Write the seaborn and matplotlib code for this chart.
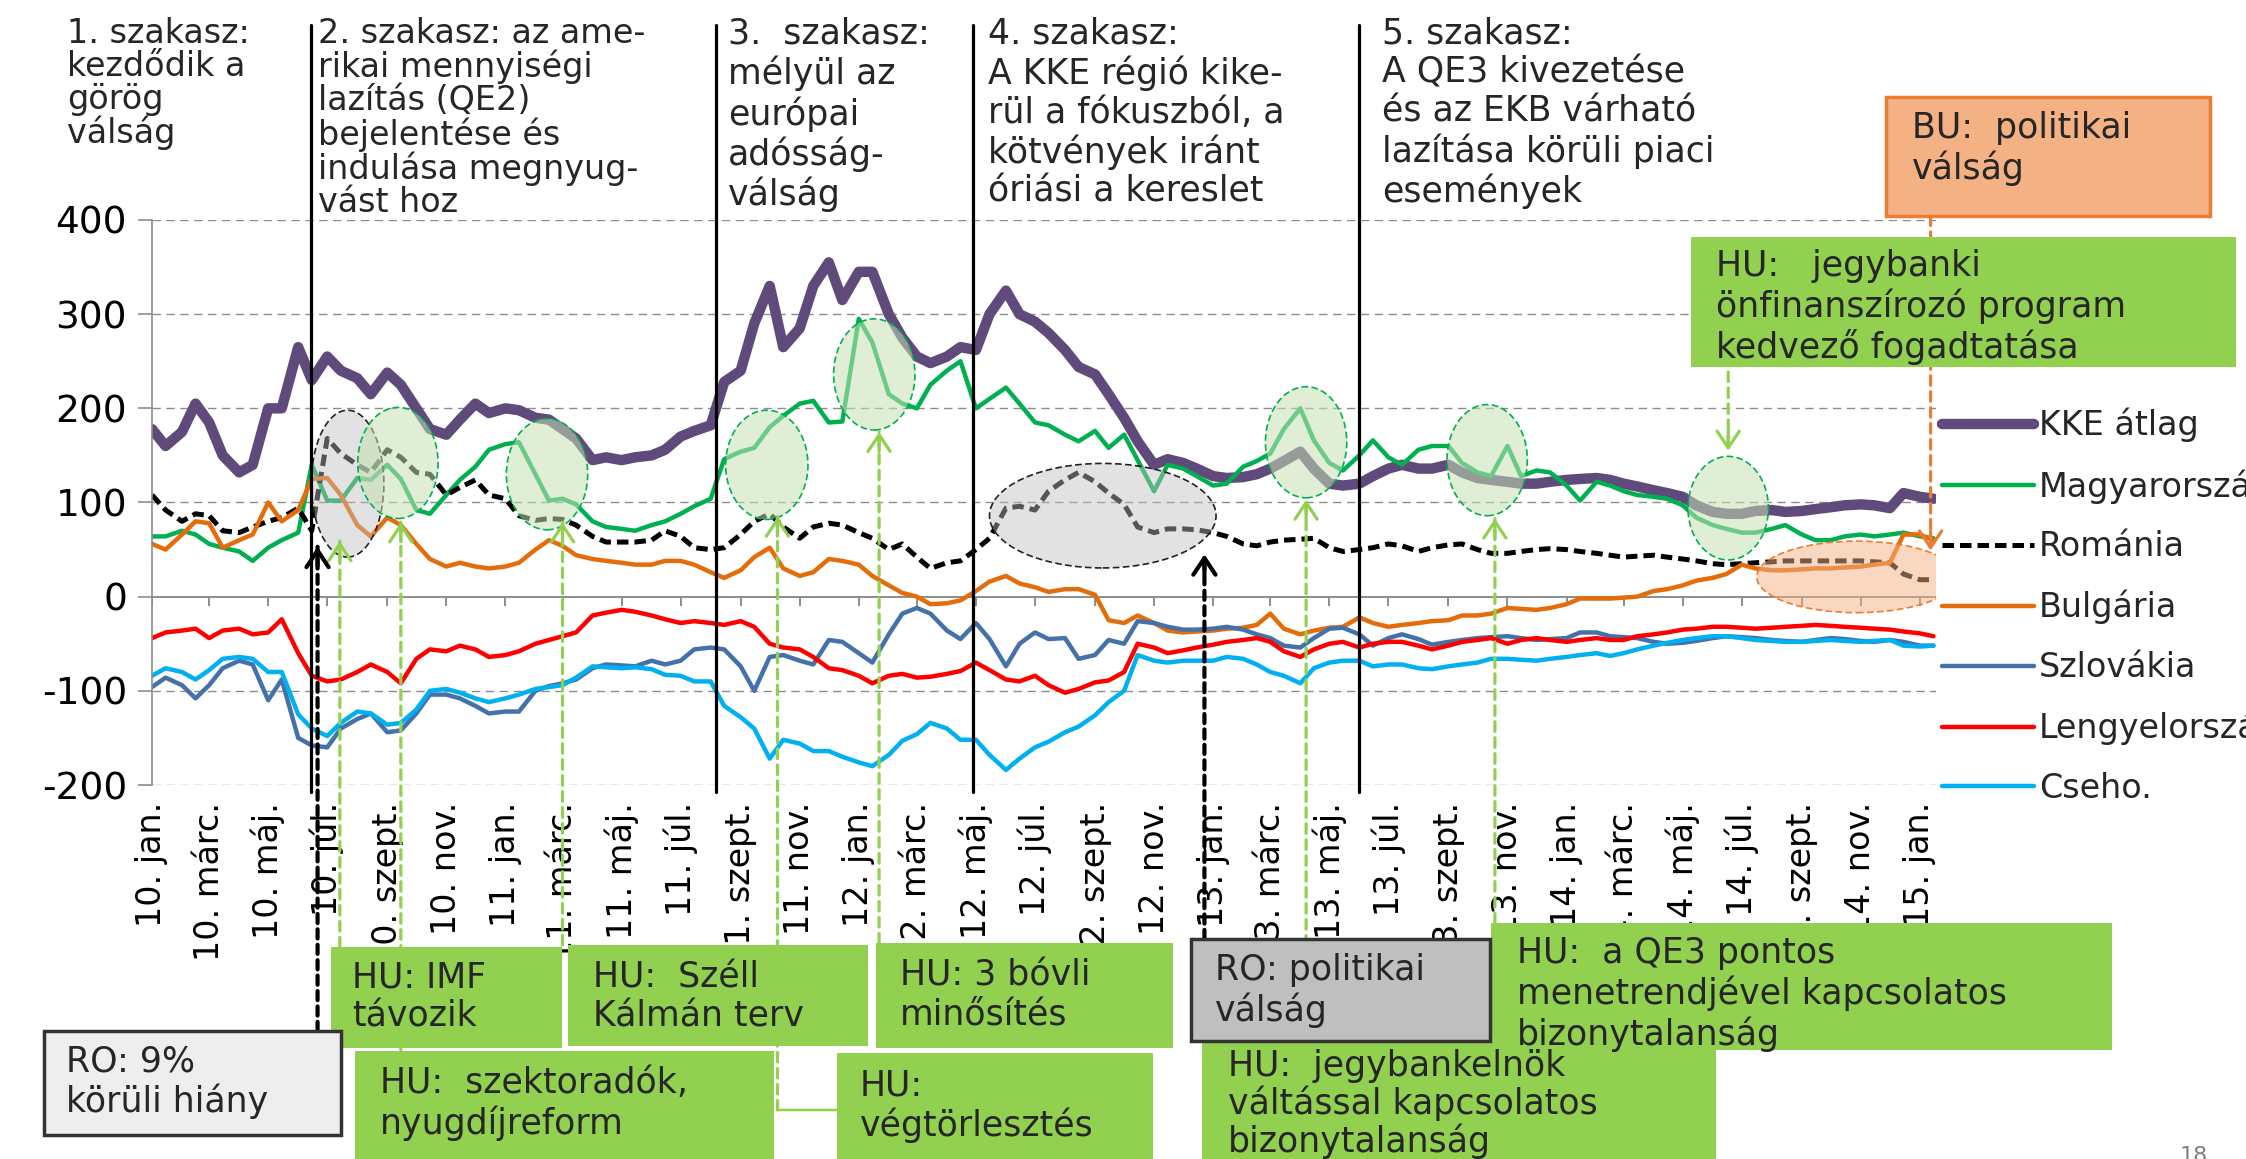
"""Spread chart of CEE sovereign bonds 2010-2015 with phase lines and event boxes."""
import matplotlib
matplotlib.use("Agg")
import matplotlib.pyplot as plt
import matplotlib.dates as mdates
import matplotlib.patches as mpatches
from matplotlib.colors import to_rgba
from matplotlib.transforms import blended_transform_factory
import pandas as pd
import seaborn as sns

W, H = 2246, 1159

# ----------------------------------------------------------------------
# data (semi-monthly readings, 1st and 15th of each month)
# ----------------------------------------------------------------------
DATES = pd.date_range("2010-01-01", "2015-01-15", freq="SMS")

KKE_ATLAG = [
    178, 160, 175, 205, 185, 150, 132, 140, 200, 200, 265, 230, 255, 240, 232, 215, 238, 225, 200, 178, 172, 188, 205, 195,
    200, 198, 190, 188, 178, 168, 145, 148, 145, 148, 150, 156, 170, 176, 182, 228, 240, 290, 330, 265, 285, 330, 355, 315,
    345, 345, 300, 275, 255, 248, 255, 265, 262, 300, 325, 300, 292, 280, 262, 244, 236, 215, 190, 165, 140, 146, 142, 136,
    128, 126, 127, 130, 136, 144, 154, 136, 120, 118, 120, 128, 136, 140, 136, 136, 140, 132, 126, 124, 122, 120, 120, 122,
    124, 125, 126, 124, 120, 117, 113, 110, 106, 97, 90, 88, 88, 91, 92, 90, 91, 93, 95, 97, 98, 97, 94, 110,
    106, 104,
]
MAGYARORSZAG = [
    64, 64, 70, 66, 56, 52, 48, 38, 52, 60, 68, 140, 102, 102, 126, 124, 140, 125, 92, 88, 108, 124, 138, 156,
    162, 164, 130, 102, 104, 98, 80, 74, 72, 70, 76, 80, 88, 96, 104, 146, 154, 158, 180, 192, 205, 208, 185, 186,
    295, 270, 215, 205, 200, 225, 240, 250, 200, 210, 222, 205, 185, 182, 172, 165, 176, 158, 172, 145, 112, 140, 136, 128,
    118, 120, 138, 144, 152, 178, 200, 166, 142, 134, 150, 166, 148, 140, 156, 160, 160, 142, 132, 128, 160, 128, 134, 132,
    118, 102, 122, 118, 112, 108, 106, 104, 97, 84, 76, 72, 68, 68, 72, 76, 66, 60, 60, 64, 66, 64, 66, 68,
    64, 62,
]
ROMANIA = [
    108, 92, 80, 88, 86, 70, 68, 74, 80, 84, 94, 70, 168, 152, 140, 132, 156, 148, 132, 130, 108, 116, 124, 108,
    104, 86, 81, 83, 82, 76, 64, 58, 58, 58, 60, 70, 64, 52, 50, 52, 66, 80, 88, 74, 62, 74, 78, 76,
    68, 62, 50, 56, 42, 30, 36, 38, 50, 62, 94, 96, 92, 112, 124, 132, 122, 110, 98, 74, 68, 72, 72, 71,
    68, 64, 56, 54, 58, 60, 61, 62, 52, 48, 50, 52, 56, 54, 48, 52, 55, 56, 50, 46, 46, 48, 50, 51,
    50, 48, 46, 44, 42, 43, 44, 42, 40, 38, 35, 34, 35, 36, 37, 38, 38, 38, 38, 38, 38, 37, 36, 24,
    18, 18,
]
BULGARIA = [
    56, 50, 66, 80, 78, 52, 60, 66, 100, 80, 92, 125, 126, 108, 76, 64, 84, 76, 56, 40, 32, 36, 32, 30,
    32, 36, 50, 60, 54, 44, 40, 38, 36, 34, 34, 38, 38, 34, 26, 20, 28, 42, 52, 30, 22, 26, 40, 38,
    34, 22, 12, 4, 0, -8, -7, -4, 6, 16, 22, 14, 10, 5, 8, 8, 2, -25, -28, -20, -28, -36, -38, -37,
    -36, -34, -33, -30, -18, -34, -40, -36, -33, -32, -22, -28, -32, -30, -28, -26, -25, -20, -20, -18, -12, -13, -14, -12,
    -8, -2, -2, -2, -1, 0, 6, 8, 12, 17, 20, 24, 34, 30, 28, 28, 29, 30, 30, 31, 32, 34, 36, 66,
    66, 60,
]
SZLOVAKIA = [
    -96, -86, -94, -108, -94, -76, -68, -72, -110, -88, -150, -158, -160, -140, -130, -124, -144, -142, -124, -104, -104, -108, -116, -124,
    -122, -122, -100, -95, -92, -88, -76, -72, -73, -74, -68, -72, -68, -56, -54, -56, -74, -100, -64, -62, -68, -72, -46, -48,
    -60, -70, -40, -18, -12, -18, -36, -45, -28, -45, -74, -50, -38, -45, -44, -66, -62, -46, -50, -26, -28, -32, -35, -35,
    -34, -32, -35, -40, -44, -52, -54, -44, -34, -33, -40, -52, -44, -40, -45, -51, -48, -46, -44, -43, -42, -44, -46, -45,
    -44, -38, -38, -42, -43, -44, -48, -50, -49, -47, -44, -42, -43, -44, -46, -47, -48, -46, -44, -45, -47, -48, -46, -48,
    -52, -52,
]
LENGYELORSZAG = [
    -44, -38, -36, -34, -44, -36, -34, -40, -38, -24, -60, -84, -90, -88, -80, -72, -80, -92, -66, -56, -58, -52, -56, -64,
    -62, -58, -50, -46, -42, -38, -20, -17, -14, -16, -20, -24, -28, -26, -28, -30, -26, -32, -50, -54, -56, -64, -76, -78,
    -84, -92, -84, -82, -86, -85, -82, -79, -70, -78, -88, -90, -84, -94, -102, -98, -91, -89, -80, -50, -54, -60, -57, -54,
    -51, -48, -46, -44, -48, -58, -64, -56, -50, -48, -54, -50, -48, -48, -52, -56, -52, -48, -46, -44, -50, -46, -44, -46,
    -48, -46, -44, -46, -46, -42, -40, -38, -35, -34, -32, -32, -33, -34, -33, -32, -31, -30, -31, -32, -33, -34, -35, -37,
    -39, -42,
]
CSEHO = [
    -84, -76, -80, -88, -78, -66, -64, -66, -80, -80, -125, -140, -148, -134, -122, -124, -136, -134, -120, -100, -98, -102, -108, -112,
    -108, -104, -98, -96, -94, -86, -74, -75, -76, -75, -77, -83, -84, -90, -90, -116, -128, -140, -172, -152, -156, -164, -164, -170,
    -176, -180, -168, -153, -146, -134, -140, -152, -152, -168, -184, -172, -160, -154, -144, -138, -126, -112, -100, -62, -68, -70, -68, -68,
    -68, -64, -66, -72, -80, -84, -92, -76, -70, -68, -68, -74, -72, -72, -76, -77, -74, -72, -70, -66, -66, -67, -68, -66,
    -64, -62, -60, -63, -60, -56, -52, -49, -46, -44, -42, -42, -44, -46, -47, -48, -48, -47, -46, -47, -48, -47, -46, -52,
    -53, -52,
]

Y_TICKS = [-200, -100, 0, 100, 200, 300, 400]
TICK_DATES = pd.date_range("2010-01-01", "2015-01-01", freq="2MS")
TICK_LABELS = [
    "10. jan.", "10. márc.", "10. máj.", "10. júl.", "10. szept.", "10. nov.",
    "11. jan.", "11. márc.", "11. máj.", "11. júl.", "11. szept.", "11. nov.",
    "12. jan.", "12. márc.", "12. máj.", "12. júl.", "12. szept.", "12. nov.",
    "13. jan.", "13. márc.", "13. máj.", "13. júl.", "13. szept.", "13. nov.",
    "14. jan.", "14. márc.", "14. máj.", "14. júl.", "14. szept.", "14. nov.",
    "15. jan.",
]

PHASE_DATES = ["2010-06-14", "2011-08-07", "2012-04-28", "2013-06-01"]
PHASE_TEXTS = [
    "1. szakasz:\nkezdődik a\ngörög\nválság",
    "2. szakasz: az ame-\nrikai mennyiségi\nlazítás (QE2)\nbejelentése és\nindulása megnyug-\nvást hoz",
    "3.  szakasz:\nmélyül az\neurópai\nadósság-\nválság",
    "4. szakasz:\nA KKE régió kike-\nrül a fókuszból, a\nkötvények iránt\nóriási a kereslet",
    "5. szakasz:\nA QE3 kivezetése\nés az EKB várható\nlazítása körüli piaci\nesemények",
]

# events: date the arrow points at, value at the arrow tip
HU_EVENT_DATES = ["2010-07-14", "2010-09-15", "2011-03-01", "2011-10-09",
                  "2012-01-22", "2013-04-07", "2013-10-19", "2014-06-17"]
HU_EVENT_VALUES = [59, 79, 79, 85, 175, 103, 83, 155]
RO_EVENT_DATES = ["2010-06-21", "2012-12-23"]
RO_EVENT_VALUES = [53, 45]
BU_EVENT_DATE = "2015-01-12"
BU_EVENT_VALUE = 49

# highlighted areas: centre date, centre value, width (days), height
ELLIPSE_DATES = ["2010-07-22", "2010-09-12", "2011-02-13", "2011-09-28", "2012-01-17",
                 "2012-09-09", "2013-04-07", "2013-10-11", "2014-06-17", "2014-10-28"]
ELLIPSE_VALUES = [120, 142, 130, 140, 236, 86, 164, 145, 94, 21]
ELLIPSE_WIDTHS = [75, 83, 84, 85, 84, 234, 84, 83, 83, 207]
ELLIPSE_HEIGHTS = [156, 118, 118, 116, 118, 111, 118, 118, 110, 76]
ELLIPSE_KINDS = ["ro", "hu", "hu", "hu", "hu", "ro", "hu", "hu", "hu", "bu"]

# ----------------------------------------------------------------------
# styles / layout
# ----------------------------------------------------------------------
GRID = "#8C8C8C"
HU_GREEN = "#92D050"
FS = 25
SERIES = [
    ("KKE átlag", KKE_ATLAG, "#604A7B", 7.5, "-"),
    ("Magyarország", MAGYARORSZAG, "#00B050", 3.2, "-"),
    ("Románia", ROMANIA, "black", 3.6, (0, (2.3, 1.2))),
    ("Bulgária", BULGARIA, "#E46C0A", 3.2, "-"),
    ("Szlovákia", SZLOVAKIA, "#4471A9", 3.2, "-"),
    ("Lengyelország", LENGYELORSZAG, "#FF0000", 3.2, "-"),
    ("Cseho.", CSEHO, "#00B0F0", 3.2, "-"),
]
ELLIPSE_STYLE = {
    "hu": ("#C5E0B4", 0.55, "#00B050"),
    "ro": ("#BFBFBF", 0.45, "#222222"),
    "bu": ("#F4B183", 0.5, "#ED7D31"),
}
PHASE_X = [67, 318, 728, 988, 1382]
PHASE_FS = [24, 24, 25, 25, 25]
PHASE_LS = [1.0, 1.0, 1.17, 1.17, 1.17]

# box: x0, top, x1, bottom (px), text x, text top, line spacing
HU_BOXES = [
    (331, 947, 562, 1048, 352, 960, "HU: IMF\ntávozik", 1.19),
    (355, 1051, 774, 1170, 380, 1066, "HU:  szektoradók,\nnyugdíjreform", 1.19),
    (568, 945, 868, 1046, 593, 960, "HU:  Széll\nKálmán terv", 1.19),
    (837, 1053, 1153, 1170, 860, 1068, "HU:\nvégtörlesztés", 1.19),
    (876, 943, 1173, 1048, 900, 958, "HU: 3 bóvli\nminősítés", 1.19),
    (1202, 1041, 1716, 1170, 1228, 1049, "HU:  jegybankelnök\nváltással kapcsolatos\nbizonytalanság", 1.08),
    (1491, 923, 2112, 1050, 1517, 936, "HU:  a QE3 pontos\nmenetrendjével kapcsolatos\nbizonytalanság", 1.19),
    (1691, 237, 2236, 367, 1716, 249, "HU:   jegybanki\nönfinanszírozó program\nkedvező fogadtatása", 1.19),
]
RO_BOXES = [
    (44, 1031, 341, 1135, 66, 1044, "RO: 9%\nkörüli hiány", 1.19, "#EEEEEE"),
    (1191, 939, 1490, 1041, 1215, 953, "RO: politikai\nválság", 1.19, "#BFBFBF"),
]
BU_BOX = (1886, 97, 2210, 216, 1912, 111, "BU:  politikai\nválság", 1.19)


def fx(px):
    return px / W


def fy(py):
    return 1 - py / H


def num(d):
    return mdates.date2num(pd.Timestamp(d))


sns.set_theme(style="white")
plt.rcParams["font.family"] = ["DejaVu Sans"]

fig = plt.figure(figsize=(W / 100, H / 100), dpi=100)
x_end = pd.Timestamp("2015-01-18")
right_px = 152 + (x_end - DATES[0]).days * 0.9682
ax = fig.add_axes([fx(152), fy(785), fx(right_px) - fx(152), fy(220) - fy(785)])
ax.patch.set_alpha(0)

# gridlines, zero axis
for v in Y_TICKS:
    if v == 0:
        ax.axhline(0, color=GRID, lw=1.4, zorder=1)
    else:
        ax.axhline(v, color=GRID, lw=1.0, ls=(0, (6, 4)), zorder=0.5)
ax.vlines(mdates.date2num(TICK_DATES), -10, 0, color=GRID, lw=1.4, zorder=1)

handles = []
for name, vals, color, lw, ls in SERIES:
    sns.lineplot(x=DATES, y=vals, ax=ax, color=color, linewidth=lw, linestyle=ls,
                 label=name, legend=False, solid_joinstyle="round", zorder=2)
    handles.append(ax.lines[-1])

# highlighted areas
for d, v, w, h, kind in zip(ELLIPSE_DATES, ELLIPSE_VALUES, ELLIPSE_WIDTHS,
                            ELLIPSE_HEIGHTS, ELLIPSE_KINDS):
    face, alpha, edge = ELLIPSE_STYLE[kind]
    ax.add_patch(mpatches.Ellipse((num(d), v), w, h, facecolor=to_rgba(face, alpha),
                                  edgecolor=edge, lw=1.2, ls=(0, (4, 2)), zorder=3))

mixed = blended_transform_factory(ax.transData, fig.transFigure)


def event_arrow(date, value, end_py, color, ls, down=False, lw=2.3):
    xd = num(date)
    ax.annotate("", xy=(xd, value), xycoords="data", xytext=(xd, fy(end_py)),
                textcoords=mixed, annotation_clip=False,
                arrowprops=dict(arrowstyle="-", color=color, lw=lw, linestyle=ls,
                                shrinkA=0, shrinkB=0), zorder=4)
    ax.annotate("", xy=(xd, value), xytext=(0, 14 if down else -14),
                textcoords="offset points", annotation_clip=False,
                arrowprops=dict(arrowstyle="->,head_length=0.6,head_width=0.4",
                                color=color, lw=lw, shrinkA=0, shrinkB=0,
                                mutation_scale=20), zorder=4)


hu_ends = [947, 1051, 945, 1110, 943, 1041, 923, 372]
for i, (d, v, end) in enumerate(zip(HU_EVENT_DATES, HU_EVENT_VALUES, hu_ends)):
    event_arrow(d, v, end, HU_GREEN, (0, (3, 2)), down=(i == len(hu_ends) - 1))
# végtörlesztés: elbow to the box
ax.annotate("", xy=(num(HU_EVENT_DATES[3]), fy(1110)), xycoords=mixed,
            xytext=(fx(837), fy(1110)), textcoords="figure fraction",
            annotation_clip=False,
            arrowprops=dict(arrowstyle="-", color=HU_GREEN, lw=1.8, shrinkA=0, shrinkB=0))
for d, v, end in zip(RO_EVENT_DATES, RO_EVENT_VALUES, [1031, 939]):
    event_arrow(d, v, end, "black", (0, (2.2, 1.5)), lw=3)
event_arrow(BU_EVENT_DATE, BU_EVENT_VALUE, 216, "#ED7D31", (0, (3, 2)), down=True)

# phase separators
for d in PHASE_DATES:
    ax.plot([num(d), num(d)], [fy(25), fy(792)], transform=mixed, color="black",
            lw=2.3, clip_on=False, zorder=5)

ax.set_xlim(DATES[0], x_end)
ax.set_ylim(-200, 400)
ax.set_yticks(Y_TICKS)
ax.set_yticklabels([str(v) for v in Y_TICKS])
ax.set_xticks(mdates.date2num(TICK_DATES))
ax.set_xticklabels(TICK_LABELS, rotation=90, ha="center", va="top")
ax.tick_params(axis="x", length=0, pad=12, labelsize=24, colors="black")
ax.tick_params(axis="y", length=10, width=1.2, color=GRID, direction="out",
               pad=8, labelsize=27, labelcolor="black", left=True)
for side in ("top", "right", "bottom"):
    ax.spines[side].set_visible(False)
ax.spines["left"].set_color(GRID)
ax.spines["left"].set_linewidth(1.2)
ax.set_xlabel("")
ax.set_ylabel("")

# phase texts
for x, txt, fs, ls in zip(PHASE_X, PHASE_TEXTS, PHASE_FS, PHASE_LS):
    fig.text(fx(x), fy(17), txt, ha="left", va="top", fontsize=fs, linespacing=ls)


def add_box(x0, top, x1, bottom, tx, ty, text, ls, face, edge=None, order=0):
    rect = mpatches.Rectangle((fx(x0), fy(bottom)), fx(x1) - fx(x0), fy(top) - fy(bottom),
                              transform=fig.transFigure, facecolor=face,
                              edgecolor=edge if edge else "none", lw=2.5 if edge else 0,
                              zorder=1 + order * 0.01)
    fig.add_artist(rect)
    fig.text(fx(tx), fy(ty), text, ha="left", va="top", fontsize=FS,
             linespacing=ls, zorder=3)


for i, box in enumerate(HU_BOXES):
    add_box(*box, HU_GREEN, order=i)
for *box, face in RO_BOXES:
    add_box(*box, face, edge="#333333", order=20)
add_box(*BU_BOX, "#F4B183", edge="#ED7D31", order=21)

fig.legend(handles, [s[0] for s in SERIES], loc="upper left",
           bbox_to_anchor=(fx(1942), fy(408)), bbox_transform=fig.transFigure,
           frameon=False, fontsize=24, handlelength=2.76, handletextpad=0.15,
           labelspacing=0.80, borderpad=0, borderaxespad=0)

fig.text(fx(2180), fy(1146), "18", color="#7F7F7F", fontsize=16, ha="left", va="top")

fig.savefig("out.png", dpi=100)
